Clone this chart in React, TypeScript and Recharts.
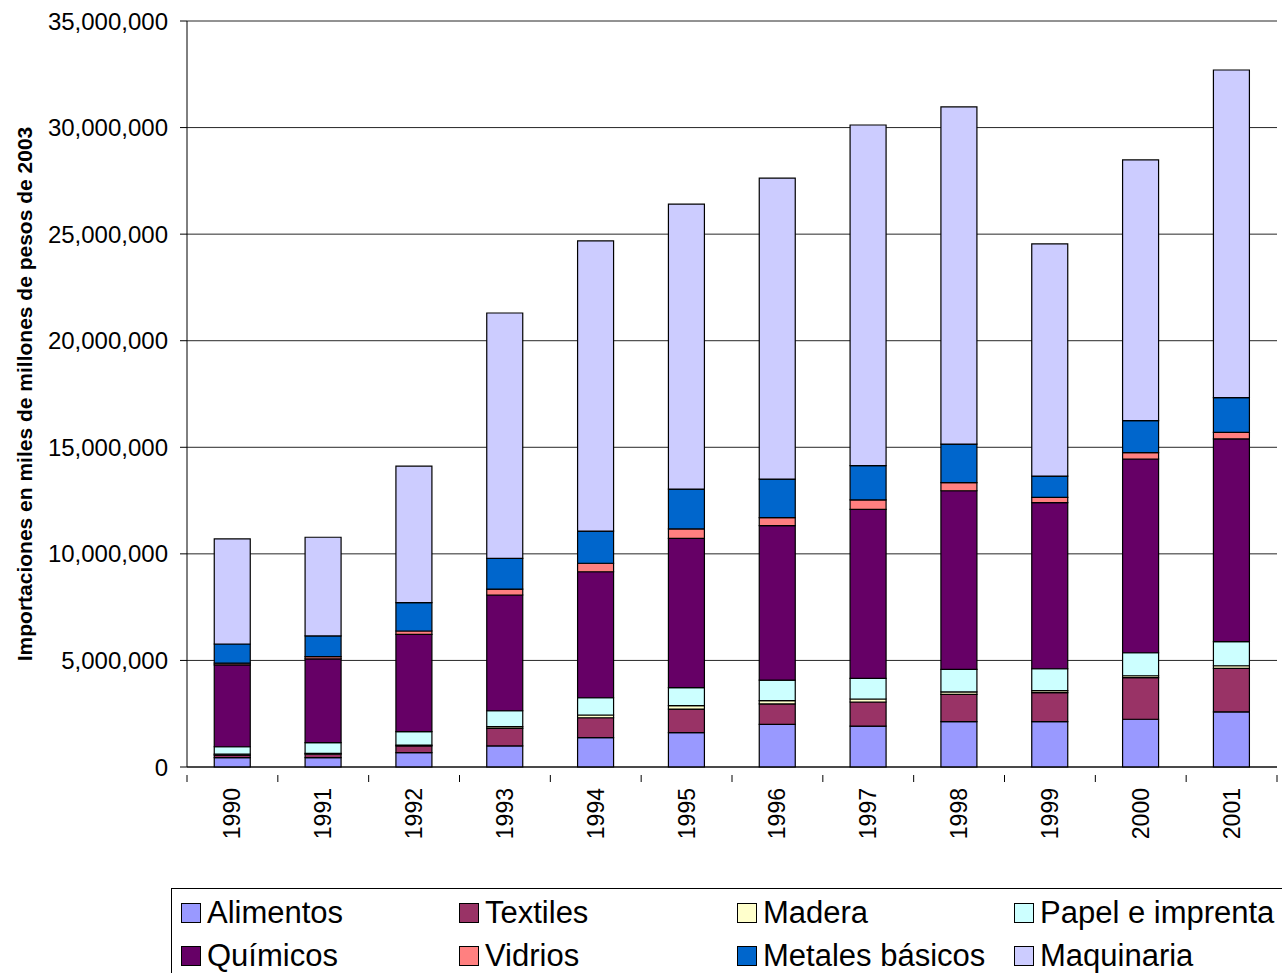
import React from "react"
import { BarChart, Bar, XAxis, YAxis, CartesianGrid, Legend } from "recharts"

const years = ["1990", "1991", "1992", "1993", "1994", "1995", "1996", "1997", "1998", "1999", "2000", "2001"]

// importaciones por sector, miles de millones de pesos de 2003
const alimentos = [440000, 440000, 670000, 990000, 1380000, 1610000, 2000000, 1920000, 2130000, 2130000, 2240000, 2590000]
const textiles = [120000, 160000, 320000, 820000, 930000, 1110000, 960000, 1130000, 1280000, 1360000, 1950000, 2040000]
const madera = [40000, 40000, 40000, 80000, 130000, 160000, 150000, 140000, 110000, 90000, 90000, 120000]
const papel = [350000, 500000, 630000, 750000, 810000, 840000, 970000, 970000, 1060000, 1030000, 1080000, 1130000]
const quimicos = [3840000, 3930000, 4560000, 5430000, 5910000, 7010000, 7240000, 7930000, 8380000, 7790000, 9090000, 9510000]
const vidrios = [80000, 110000, 160000, 280000, 400000, 440000, 380000, 440000, 380000, 250000, 300000, 310000]
const metales = [900000, 970000, 1330000, 1440000, 1510000, 1870000, 1810000, 1610000, 1810000, 1000000, 1500000, 1630000]
const maquinaria = [4930000, 4630000, 6410000, 11510000, 13610000, 13370000, 14120000, 15980000, 15820000, 10890000, 12230000, 15370000]

const yTicks = [0, 5000000, 10000000, 15000000, 20000000, 25000000, 30000000, 35000000]

const series = [
  { key: "alimentos", name: "Alimentos", color: "#9999FF", values: alimentos },
  { key: "textiles", name: "Textiles", color: "#993366", values: textiles },
  { key: "madera", name: "Madera", color: "#FFFFCC", values: madera },
  { key: "papel", name: "Papel e imprenta", color: "#CCFFFF", values: papel },
  { key: "quimicos", name: "Químicos", color: "#660066", values: quimicos },
  { key: "vidrios", name: "Vidrios", color: "#FF8080", values: vidrios },
  { key: "metales", name: "Metales básicos", color: "#0066CC", values: metales },
  { key: "maquinaria", name: "Maquinaria", color: "#CCCCFF", values: maquinaria },
]

const data = years.map((year, i) => {
  const row: Record<string, string | number> = { year }
  series.forEach((s) => {
    row[s.key] = s.values[i]
  })
  return row
})

const W = 1282
const H = 973
const LEFT = 187
const RIGHT = 5
const TOP = 21
const BOTTOM = 206
const FONT = "'Liberation Sans', Arial, sans-serif"
const band = (W - LEFT - RIGHT) / years.length

const fmt = (v: number) => v.toLocaleString("en-US")

// year label plus tick marks between categories
function YearTick(props: any) {
  const { x, y, payload, index } = props
  const left = x - band / 2
  return (
    <g>
      <line x1={left} x2={left} y1={y} y2={y + 7} stroke="#000" />
      {index === years.length - 1 && (
        <line x1={left + band} x2={left + band} y1={y} y2={y + 7} stroke="#000" />
      )}
      <text
        x={x}
        y={y + 13}
        transform={`rotate(-90 ${x} ${y + 13})`}
        textAnchor="end"
        dominantBaseline="central"
        fontSize={23}
        fontFamily={FONT}
        fill="#000"
      >
        {payload.value}
      </text>
    </g>
  )
}

function AxisTitle() {
  return (
    <text
      x={24}
      y={394}
      transform="rotate(-90 24 394)"
      textAnchor="middle"
      dominantBaseline="central"
      fontSize={21}
      fontWeight="bold"
      fontFamily={FONT}
      fill="#000"
    >
      Importaciones en miles de millones de pesos de 2003
    </text>
  )
}

function LegendBox() {
  return (
    <div
      style={{
        border: "1px solid #000",
        width: W - 171 + 10,
        height: 120,
        boxSizing: "border-box",
        padding: "7px 0 0 9px",
        display: "grid",
        gridTemplateColumns: "278px 278px 277px 300px",
        alignContent: "start",
        rowGap: 9,
        fontFamily: FONT,
        fontSize: 31,
        background: "#fff",
      }}
    >
      {series.map((s) => (
        <div key={s.key} style={{ display: "flex", alignItems: "center", height: 34, whiteSpace: "nowrap" }}>
          <span
            style={{
              display: "inline-block",
              flex: "none",
              width: 20,
              height: 20,
              background: s.color,
              border: "1px solid #000",
              boxSizing: "border-box",
              marginRight: 6,
            }}
          />
          <span>{s.name}</span>
        </div>
      ))}
    </div>
  )
}

export default function App() {
  return (
    <div style={{ position: "absolute", left: 0, top: 0, width: W, height: H, overflow: "hidden", background: "#fff" }}>
      <BarChart
        width={W}
        height={H}
        data={data}
        margin={{ top: TOP, right: RIGHT, left: 0, bottom: 0 }}
        barCategoryGap="30%"
      >
        <CartesianGrid vertical={false} stroke="#000" strokeOpacity={0.85} />
        <XAxis
          dataKey="year"
          stroke="#000"
          tickLine={false}
          tick={<YearTick />}
          interval={0}
          height={BOTTOM}
        />
        <YAxis
          domain={[0, 35000000]}
          ticks={yTicks}
          tickFormatter={fmt}
          width={LEFT}
          stroke="#000"
          tickSize={7}
          tickMargin={12}
          tick={{ fontSize: 24, fontFamily: FONT, fill: "#000" }}
          label={<AxisTitle />}
        />
        <Legend
          layout="vertical"
          align="center"
          verticalAlign="middle"
          wrapperStyle={{ left: 171, top: 888, width: W - 171 + 10, height: 120 }}
          content={<LegendBox />}
        />
        {series.map((s) => (
          <Bar
            key={s.key}
            dataKey={s.key}
            name={s.name}
            stackId="imp"
            fill={s.color}
            stroke="#000"
            strokeWidth={1.2}
            isAnimationActive={false}
          />
        ))}
      </BarChart>
    </div>
  )
}
